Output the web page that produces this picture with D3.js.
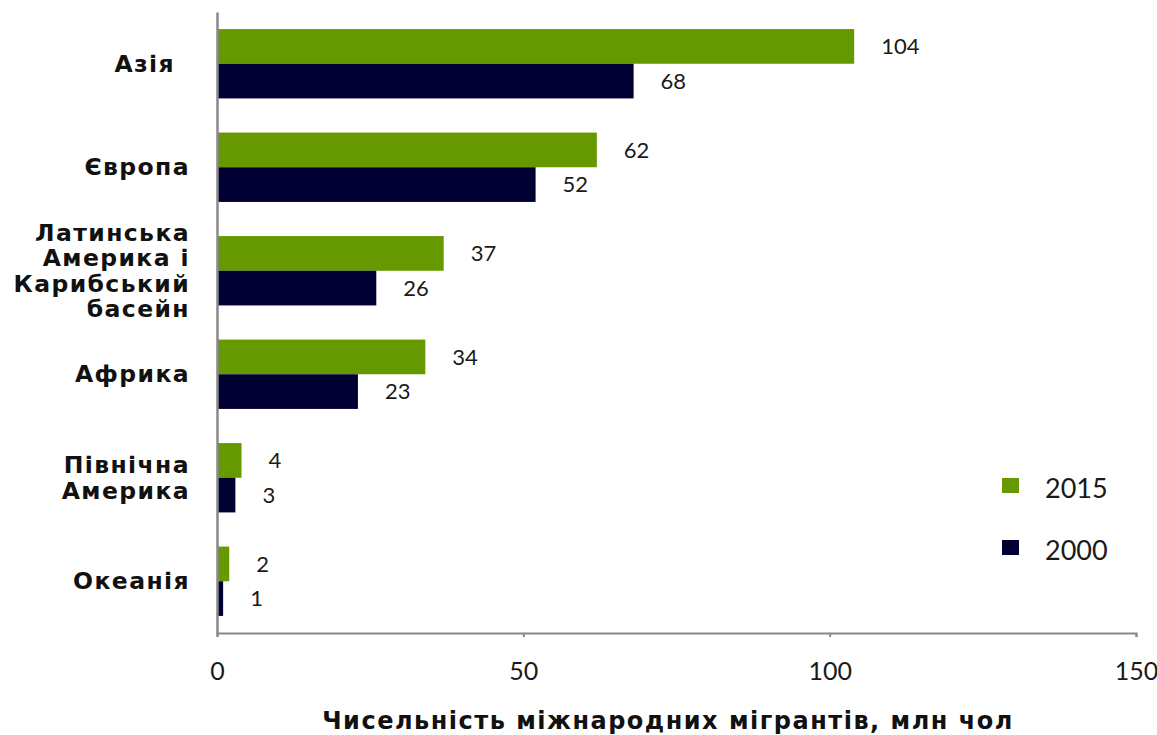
<!DOCTYPE html>
<html>
<head>
<meta charset="utf-8">
<script src="https://cdn.jsdelivr.net/npm/d3@7"></script>
<style>
  body { margin: 0; background: #fff; }
  svg { display: block; }
</style>
</head>
<body>
<div id="chart"></div>
<script>
// regions, top to bottom; "|" splits label lines
var regions = ["Азія", "Європа", "Латинська|Америка і|Карибський|басейн", "Африка", "Північна|Америка", "Океанія"];
var series = ["2015", "2000"];
var values2015 = [104, 62, 37, 34, 4, 2];
var values2000 = [68, 52, 26, 23, 3, 1];
var xTicks = [0, 50, 100, 150];
var colors = ["#669900", "#000033"];
var axisTitle = "Чисельність міжнародних мігрантів, млн чол";

var numFont = "Lato, 'Open Sans', sans-serif";
var boldFont = "'DejaVu Sans', sans-serif";

var width = 1157, height = 735;
var margin = { top: 12, right: 21, bottom: 102, left: 217 };
var innerW = width - margin.left - margin.right;
var innerH = height - margin.top - margin.bottom;

var svg = d3.select("#chart").append("svg")
  .attr("width", width)
  .attr("height", height);

var g = svg.append("g")
  .attr("transform", "translate(" + margin.left + "," + margin.top + ")");

var x = d3.scaleLinear().domain([0, 150]).range([0, innerW]);
var y = d3.scaleBand().domain(regions).range([0, innerH]).paddingInner(0.33).paddingOuter(0.165);
var ySub = d3.scaleBand().domain(series).range([0, y.bandwidth()]);

var rows = regions.map(function (r, i) {
  return { region: r, vals: [values2015[i], values2000[i]] };
});

var groups = g.selectAll(".row").data(rows).enter().append("g")
  .attr("class", "row")
  .attr("transform", function (d) { return "translate(0," + y(d.region) + ")"; });

groups.selectAll("rect").data(function (d) {
  return d.vals.map(function (v, j) { return { s: series[j], v: v, j: j }; });
}).enter().append("rect")
  .attr("x", 0)
  .attr("y", function (d) { return ySub(d.s); })
  .attr("width", function (d) { return x(d.v); })
  .attr("height", ySub.bandwidth())
  .attr("fill", function (d) { return colors[d.j]; });

groups.selectAll(".val").data(function (d) {
  return d.vals.map(function (v, j) { return { s: series[j], v: v }; });
}).enter().append("text")
  .attr("class", "val")
  .attr("x", function (d) { return x(d.v) + 27; })
  .attr("y", function (d) { return ySub(d.s) + ySub.bandwidth() / 2; })
  .attr("dy", "0.36em")
  .style("font-family", numFont)
  .style("font-size", "22px")
  .style("fill", "#1a1a1a")
  .text(function (d) { return d.v; });

// x axis
var xAxis = g.append("g")
  .attr("transform", "translate(0," + innerH + ")")
  .call(d3.axisBottom(x).tickValues(xTicks).tickSize(4).tickPadding(25));
xAxis.select(".domain").attr("stroke", "#888").attr("stroke-width", 2);
xAxis.selectAll(".tick line").attr("stroke", "#888").attr("stroke-width", 2);
xAxis.selectAll("text")
  .style("font-family", numFont)
  .style("font-size", "25px")
  .style("fill", "#1a1a1a");

// y axis line
var yAxis = g.append("g").call(d3.axisLeft(y).tickSize(0).tickFormat(""));
yAxis.select(".domain").attr("stroke", "#888").attr("stroke-width", 2.5);

// category labels
var catLabels = g.selectAll(".cat").data(regions).enter().append("text")
  .attr("class", "cat")
  .attr("text-anchor", "end")
  .style("font-family", boldFont)
  .style("font-weight", "bold")
  .style("font-size", "23.5px")
  .style("letter-spacing", "1.4px")
  .style("fill", "#111");

catLabels.each(function (d) {
  var lines = d.split("|");
  var lh = 25.5;
  var cy = y(d) + y.bandwidth() / 2;
  var startY = cy - (lines.length - 1) * lh / 2;
  var t = d3.select(this);
  lines.forEach(function (ln, k) {
    t.append("tspan")
      .attr("x", d === "Азія" ? -42 : -27)
      .attr("y", startY + k * lh)
      .attr("dy", "0.35em")
      .text(ln);
  });
});

// axis title
svg.append("text")
  .attr("x", 668)
  .attr("y", 729)
  .attr("text-anchor", "middle")
  .style("font-family", boldFont)
  .style("font-weight", "bold")
  .style("font-size", "24px")
  .style("letter-spacing", "1.5px")
  .style("fill", "#111")
  .text(axisTitle);

// legend
var legend = svg.append("g").attr("transform", "translate(1002,470)");
series.forEach(function (s, i) {
  var lg = legend.append("g").attr("transform", "translate(0," + i * 62 + ")");
  lg.append("rect").attr("x", 0).attr("y", 8).attr("width", 17).attr("height", 15).attr("fill", colors[i]);
  lg.append("text")
    .attr("x", 43)
    .attr("y", 19)
    .attr("dy", "0.35em")
    .style("font-family", numFont)
    .style("font-size", "27px")
    .style("fill", "#1a1a1a")
    .text(s);
});
</script>
</body>
</html>
